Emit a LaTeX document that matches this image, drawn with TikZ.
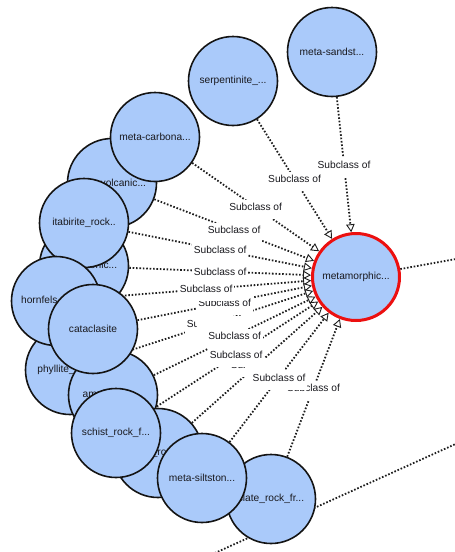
\documentclass[tikz,border=0pt]{standalone}
\usepackage{fontspec}
\setmainfont{Liberation Sans}
\usetikzlibrary{arrows.meta,backgrounds}

\definecolor{nodefill}{RGB}{170,202,250}
\definecolor{nodeline}{RGB}{20,20,20}
\definecolor{edgeline}{RGB}{30,30,30}
\definecolor{txt}{RGB}{25,25,30}
\definecolor{focus}{RGB}{236,16,16}

\tikzset{
  cls/.style={circle, draw=nodeline, line width=1.6pt, fill=nodefill,
    minimum size=89pt, inner sep=0pt, text=txt,
    font=\fontsize{10.2}{12}\selectfont},
  focuscls/.style={cls, draw=focus, line width=3pt, minimum size=87pt},
  link/.style={draw=edgeline, line width=1.8pt, dash pattern=on 1.6pt off 1.8pt},
  subof/.style={link,
    -{Triangle[length=8pt,width=8.5pt,fill=white,line width=0.9pt]}},
  lbl/.style={fill=white, inner xsep=1.5pt, inner ysep=3.5pt, text depth=5pt,
    text=txt, font=\fontsize{10.2}{12}\selectfont},
}

\begin{document}
\begin{tikzpicture}[x=1pt,y=-1pt]
\useasboundingbox (0,0) rectangle (455,552);
\clip (0,0) rectangle (455,552);

% far ends of links leaving the view
\coordinate (offA) at (190,564.3);
\coordinate (offB) at (520,414.8);
\coordinate (offR) at (520,247.5);

% classes, back to front
\node[cls] (vol)  at (112,183) {metavolcanic...};
\node[cls] (carb) at (155,137) {meta-carbona...};
\node[cls] (plu)  at (84,266)  {metaplutonic...};
\node[cls] (ita)  at (84,223)  {itabirite\_rock..};
\node[cls] (phy)  at (70,370)  {phyllite\_rock...};
\node[cls] (horn) at (56,301)  {hornfels\_rock...};
\node[cls] (amph) at (113,395) {amphibolite...};
\node[cls] (cata) at (93,329)  {cataclasite};
\node[cls] (gne)  at (158,453) {gneiss\_rock\_f...};
\node[cls] (sch)  at (116,433) {schist\_rock\_f...};
\node[cls] (sla)  at (271,499) {slate\_rock\_fr...};
\node[cls] (sil)  at (202,478) {meta-siltston...};
\node[cls] (serp) at (233,81)  {serpentinite\_...};
\node[cls] (sand) at (332,52)  {meta-sandst...};
\node[focuscls] (meta) at (356,277) {metamorphic...};

\begin{scope}[on background layer]
  \clip (0,0) rectangle (455,552);
  % links
  \draw[link] (offA) -- (offB);
  \draw[link] (meta) -- (offR);
  \foreach \s in {sand,serp,carb,vol,ita,plu,horn,cata,phy,amph,sch,gne,sil,sla}
    \draw[subof] (\s) -- (meta);

  % link labels, lower ones first
  \path (sla) -- (meta) node[lbl, midway, yshift=-2.5pt] {Subclass of};
  \path (gne) -- (meta) node[lbl, midway, yshift=-2.5pt] (gneL) {\phantom{Subclass of}};
  \begin{scope}
    \clip (220,340) rectangle (244,390);
    \node[lbl, fill=none] at (gneL) {Subclass of};
  \end{scope}
  \path (sil) -- (meta) node[lbl, midway, yshift=-2.5pt] {Subclass of};
  \path (sch) -- (meta) node[lbl, midway, yshift=-2.5pt] {Subclass of};
  \path (phy) -- (meta) node[lbl, midway, yshift=-2.5pt] (phyL) {\phantom{Subclass of}};
  \begin{scope}
    \clip (170,300) rectangle (196,345);
    \node[lbl, fill=none] at (phyL) {Subclass of};
  \end{scope}
  \path (amph) -- (meta) node[lbl, midway, yshift=-2.5pt] {Subclass of};
  \path (cata) -- (meta) node[lbl, midway, yshift=-2.5pt] {Subclass of};
  \path (horn) -- (meta) node[lbl, midway, yshift=-2.5pt] {Subclass of};
  \path (plu)  -- (meta) node[lbl, midway, yshift=-2.5pt] {Subclass of};
  \path (ita)  -- (meta) node[lbl, midway, yshift=-2.5pt] {Subclass of};
  \path (vol)  -- (meta) node[lbl, midway, yshift=-2.5pt] {Subclass of};
  \path (carb) -- (meta) node[lbl, midway, yshift=-2.5pt] {Subclass of};
  \path (sand) -- (meta) node[lbl, midway, yshift=-2.5pt] {Subclass of};
  \path (serp) -- (meta) node[lbl, midway, yshift=-2.5pt] {Subclass of};
\end{scope}
\end{tikzpicture}
\end{document}
